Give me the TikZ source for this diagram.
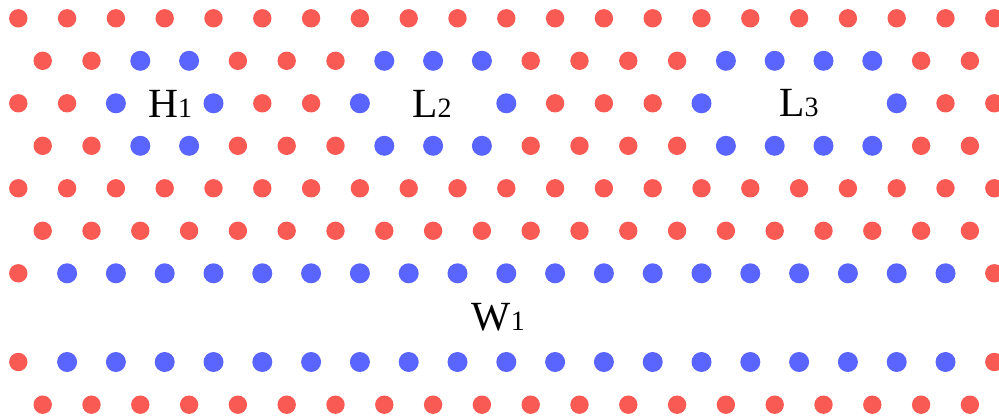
\documentclass[tikz,border=0pt]{standalone}
\usepackage{fontspec}
\setmainfont{Liberation Serif}
\definecolor{dotred}{RGB}{250,90,84}
\definecolor{dotblue}{RGB}{90,100,255}
\newcommand{\biglab}[2]{{\fontsize{41.5}{41.5}\selectfont #1}{\fontsize{28}{28}\selectfont #2}}
\begin{document}
\begin{tikzpicture}[x=1pt,y=-1pt,
  reddot/.style={circle,fill=dotred,inner sep=0pt,minimum size=18.4pt},
  bluedot/.style={circle,fill=dotblue,inner sep=0pt,minimum size=20pt},
  lab/.style={inner sep=0pt,anchor=base west,text=black}]
\useasboundingbox (0,0) rectangle (999,419);
% row y positions
\def\ya{18.3}\def\yb{60.8}\def\yc{103.3}\def\yd{145.8}\def\ye{188.3}
\def\yf{230.8}\def\yg{273.3}\def\yh{362}\def\yi{404.7}
% even rows all red: 0 and 4
\foreach \r/\yy in {0/\ya,4/\ye}
  \foreach \i in {0,...,20}
    \node[reddot] (d\r-\i) at ({18.3+48.8*\i},\yy) {};
% odd rows all red: 5 and 8
\foreach \r/\yy in {5/\yf,8/\yi}
  \foreach \j in {0,...,19}
    \node[reddot] (d\r-\j) at ({42.7+48.8*\j},\yy) {};
% rows 1 and 3
\foreach \r/\yy in {1/\yb,3/\yd}{
  \foreach \j in {0,1,4,5,6,10,11,12,13,18,19}
    \node[reddot] (d\r-\j) at ({42.7+48.8*\j},\yy) {};
  \foreach \j in {2,3,7,8,9,14,15,16,17}
    \node[bluedot] (d\r-\j) at ({42.7+48.8*\j},\yy) {};
}
% row 2
\foreach \i in {0,1,5,6,11,12,13,19,20}
  \node[reddot] (d2-\i) at ({18.3+48.8*\i},\yc) {};
\foreach \i in {2,4,7,10,14,18}
  \node[bluedot] (d2-\i) at ({18.3+48.8*\i},\yc) {};
% rows 6 and 7
\foreach \r/\yy in {6/\yg,7/\yh}{
  \node[reddot] (d\r-0) at (18.3,\yy) {};
  \node[reddot] (d\r-20) at ({18.3+48.8*20},\yy) {};
  \foreach \i in {1,...,19}
    \node[bluedot] (d\r-\i) at ({18.3+48.8*\i},\yy) {};
}
% labels
\node[lab] (h1) at (148,117.3) {\biglab{H}{1}};
\node[lab] (l2) at (412,117.3) {\biglab{L}{2}};
\node[lab] (l3) at (779,116.5) {\biglab{L}{3}};
\node[lab] (w1) at (471.5,331) {\biglab{W}{1}};
\end{tikzpicture}
\end{document}
